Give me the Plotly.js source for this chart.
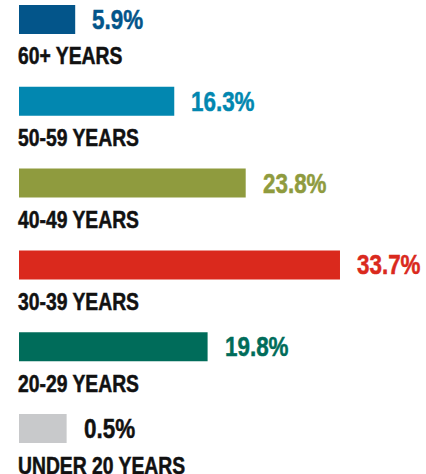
<!DOCTYPE html>
<html>
<head>
<meta charset="utf-8">
<script src="https://cdn.plot.ly/plotly-3.0.1.min.js"></script>
<style>html,body{margin:0;padding:0;background:#fff;}#chart{width:426px;height:474px;}</style>
</head>
<body>
<div id="chart"></div>
<script>
const categories = ["60+ YEARS", "50-59 YEARS", "40-49 YEARS", "30-39 YEARS", "20-29 YEARS", "UNDER 20 YEARS"];
const values = [5.9, 16.3, 23.8, 33.7, 19.8, 0.5];
const valueLabels = ["5.9%", "16.3%", "23.8%", "33.7%", "19.8%", "0.5%"];
const barColors = ["#03558a", "#0287b0", "#8f9b3e", "#da291d", "#006c5a", "#c8c9cb"];
const textColors = ["#03558a", "#0287b0", "#8f9b3e", "#da291d", "#006c5a", "#111111"];

// very small shares get a minimum visible bar length (as in the original graphic)
const minShown = 5;
const shown = values.map(v => Math.max(v, minShown));

const FONT = "'Liberation Sans', Arial, sans-serif";
const VALUE_SQUEEZE = 0.80;  // condensed look
const LABEL_SQUEEZE = 0.84;

const annotations = [];
const squeeze = [];
const strokeCol = [];
categories.forEach((c, i) => {
  annotations.push({
    x: shown[i], y: c, xref: "x", yref: "y",
    text: "<b>" + valueLabels[i] + "</b>",
    showarrow: false, xanchor: "left", yanchor: "middle", align: "left",
    xshift: 15, yshift: 0,
    font: {family: FONT, size: 28, color: textColors[i]}
  });
  squeeze.push(VALUE_SQUEEZE);
  strokeCol.push(textColors[i]);
  annotations.push({
    x: 0, y: c, xref: "x", yref: "y",
    text: "<b>" + c + "</b>",
    showarrow: false, xanchor: "left", yanchor: "middle", align: "left",
    xshift: -3, yshift: -37,
    font: {family: FONT, size: 23, color: "#111111"}
  });
  squeeze.push(LABEL_SQUEEZE);
  strokeCol.push("#111111");
});

const trace = {
  type: "bar", orientation: "h",
  x: shown, y: categories,
  marker: {color: barColors, line: {width: 0}},
  width: 0.355,
  hoverinfo: "skip",
  cliponaxis: false
};

const layout = {
  width: 426, height: 474,
  margin: {l: 19, r: 26, t: 0, b: 0, pad: 0},
  paper_bgcolor: "#ffffff", plot_bgcolor: "#ffffff",
  showlegend: false,
  xaxis: {range: [0, 40], visible: false, fixedrange: true},
  yaxis: {type: "category", range: [5.556, -0.238], visible: false, fixedrange: true},
  annotations: annotations
};

Plotly.newPlot("chart", [trace], layout, {displayModeBar: false, staticPlot: true}).then(gd => {
  gd.querySelectorAll("g.annotation").forEach(g => {
    const idx = +g.getAttribute("data-index");
    const t = g.querySelector("text.annotation-text");
    if (!t) return;
    const L = t.getComputedTextLength();
    t.setAttribute("lengthAdjust", "spacingAndGlyphs");
    t.setAttribute("textLength", (L * squeeze[idx]).toFixed(2));
    t.style.stroke = strokeCol[idx];
    t.style.strokeWidth = "0.5px";
  });
});
</script>
</body>
</html>
